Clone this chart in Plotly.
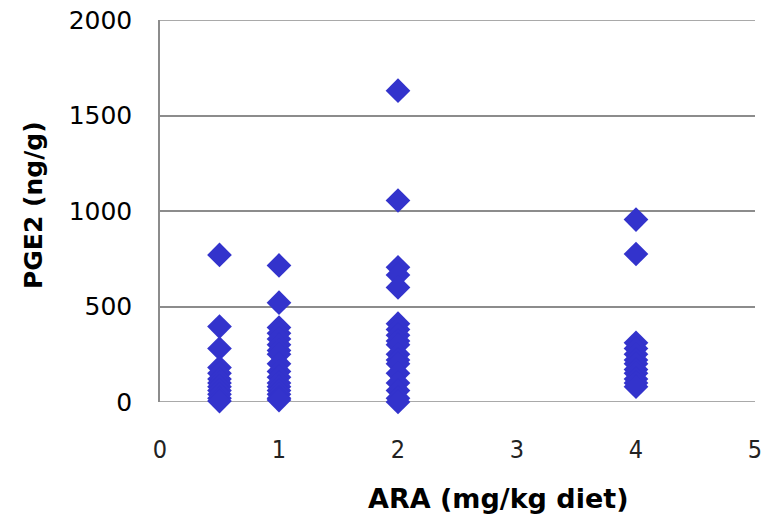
import plotly.graph_objects as go

x_05 = [0.5] * 12
y_05 = [770, 395, 280, 180, 150, 120, 100, 80, 60, 40, 20, 5]
x_1 = [1] * 17
y_1 = [715, 520, 390, 360, 330, 300, 270, 250, 200, 160, 130, 100, 80, 60, 40, 20, 10]
x_2 = [2] * 18
y_2 = [1630, 1055, 705, 665, 600, 410, 380, 350, 320, 300, 250, 220, 200, 150, 100, 60, 20, 0]
x_4 = [4] * 12
y_4 = [955, 775, 310, 280, 250, 220, 200, 170, 150, 120, 100, 80]

xs = x_05 + x_1 + x_2 + x_4
ys = y_05 + y_1 + y_2 + y_4

x_ticks = [0, 1, 2, 3, 4, 5]
y_ticks = [0, 500, 1000, 1500, 2000]

fig = go.Figure(go.Scatter(
    x=xs, y=ys, mode="markers",
    marker=dict(symbol="diamond", size=19, color="#3333CC", line=dict(width=0)),
    cliponaxis=False,
))

# page body adds 8px offset; figure sized to fill the 771x519 window
fig.update_layout(
    width=763, height=511,
    margin=dict(l=152, r=16, t=12, b=117),
    plot_bgcolor="white", paper_bgcolor="white",
    showlegend=False,
)
fig.update_xaxes(
    range=[0, 5], tickvals=x_ticks, showgrid=False, zeroline=False,
    showline=False, ticks="", ticklabelstandoff=30, automargin=False,
    ticklabeloverflow="allow",
    tickfont=dict(family="Liberation Sans Narrow, DejaVu Sans Condensed, Roboto", size=25, color="#222222"),
)
fig.update_yaxes(
    range=[0, 2000], tickvals=y_ticks, showgrid=True, gridcolor="#8c8c8c", gridwidth=1.5,
    zeroline=False, showline=True, linecolor="#8c8c8c", linewidth=1.5, ticks="",
    ticklabelstandoff=21, automargin=False, ticklabeloverflow="allow",
    tickfont=dict(family="DejaVu Sans", size=25, color="black"),
)
for yv in (y_ticks[0], y_ticks[-1]):
    fig.add_shape(type="line", xref="paper", yref="y", x0=0, x1=1, y0=yv, y1=yv,
                  line=dict(color="#8c8c8c", width=1.5), layer="below")

fig.add_annotation(text="<b>ARA (mg/kg diet)</b>", xref="paper", yref="paper",
                   x=(498 - 160) / 595, y=(402 - 498) / 382, xanchor="center", yanchor="middle",
                   showarrow=False, font=dict(family="DejaVu Sans", size=27, color="black"))
fig.add_annotation(text="<b>PGE2 (ng/g)</b>", xref="paper", yref="paper",
                   x=(33 - 160) / 595, y=(402 - 205) / 382, xanchor="center", yanchor="middle",
                   textangle=-90, showarrow=False,
                   font=dict(family="DejaVu Sans", size=25, color="black"))

fig.write_html("out.html")
